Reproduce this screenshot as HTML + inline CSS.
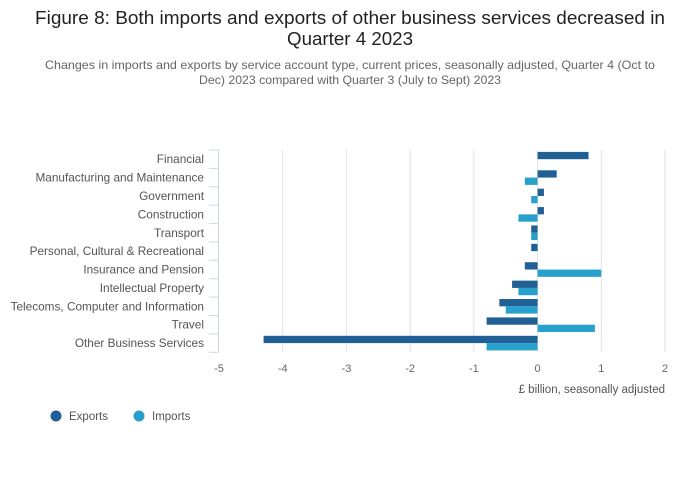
<!DOCTYPE html>
<html><head><meta charset="utf-8"><style>
body{margin:0;background:#fff;}
svg{display:block;font-family:"Liberation Sans",sans-serif;}
</style></head><body>
<svg id="chart" width="700" height="502" viewBox="0 0 700 502">
<rect width="700" height="502" fill="#fff"/>
<text x="350" y="24" text-anchor="middle" font-size="18" fill="#222" textLength="630" lengthAdjust="spacingAndGlyphs">Figure 8: Both imports and exports of other business services decreased in</text>
<text x="350" y="45" text-anchor="middle" font-size="18" fill="#222" textLength="126" lengthAdjust="spacingAndGlyphs">Quarter 4 2023</text>
<text x="350" y="69" text-anchor="middle" font-size="12" fill="#666" textLength="610" lengthAdjust="spacingAndGlyphs">Changes in imports and exports by service account type, current prices, seasonally adjusted, Quarter 4 (Oct to</text>
<text x="350" y="84" text-anchor="middle" font-size="12" fill="#666" textLength="302" lengthAdjust="spacingAndGlyphs">Dec) 2023 compared with Quarter 3 (July to Sept) 2023</text>
<g id="grid"></g>
<g id="bars"></g>
<g id="yaxis"></g>
<g id="xaxis"></g>
<text x="665" y="393" text-anchor="end" font-size="11.5" fill="#555">£ billion, seasonally adjusted</text>
<g>
<circle cx="56" cy="416" r="5.5" fill="#206095"/>
<text x="69" y="420" font-size="11.5" fill="#555">Exports</text>
</g>
<g>
<circle cx="139" cy="416" r="5.5" fill="#27a0cc"/>
<text x="152" y="420" font-size="11.5" fill="#555">Imports</text>
</g>
</svg>
<script>
const categories=["Financial","Manufacturing and Maintenance","Government","Construction","Transport","Personal, Cultural & Recreational","Insurance and Pension","Intellectual Property","Telecoms, Computer and Information","Travel","Other Business Services"];
const exportsData=[0.8,0.3,0.1,0.1,-0.1,-0.1,-0.2,-0.4,-0.6,-0.8,-4.3];
const importsData=[0,-0.2,-0.1,-0.3,-0.1,0,1.0,-0.3,-0.5,0.9,-0.8];
const xTicks=[-5,-4,-3,-2,-1,0,1,2];

const NS="http://www.w3.org/2000/svg";
const X0=219,X1=665,Y0=150,Y1=352.3;
const xMin=-5,xMax=2;
function xs(v){return X0+(v-xMin)/(xMax-xMin)*(X1-X0);}
const band=(Y1-Y0)/categories.length;
function ys(i){return Y0+i*band;}
function mk(tag,attrs,parent){const e=document.createElementNS(NS,tag);for(const k in attrs)e.setAttribute(k,attrs[k]);parent.appendChild(e);return e;}
const grid=document.getElementById('grid'),bars=document.getElementById('bars'),yaxis=document.getElementById('yaxis'),xaxis=document.getElementById('xaxis');
xTicks.forEach(t=>{
  if(t!==xMin){const l=mk('line',{x1:xs(t),x2:xs(t),y1:Y0,y2:Y1,stroke:'#e2e2e2','stroke-width':1},grid);
  
  }
  const tx=mk('text',{x:xs(t),y:372,'text-anchor':'middle','font-size':11,fill:'#666'},xaxis);
  tx.textContent=t;
  
  
});
const ax=mk('line',{x1:218.5,x2:218.5,y1:Y0,y2:Y1,stroke:'#ccd6eb','stroke-width':1},yaxis);


for(let i=0;i<=categories.length;i++){
  const tk=mk('line',{x1:209,x2:218.5,y1:ys(i),y2:ys(i),stroke:'#ccd6eb','stroke-width':1},yaxis);
  
  
}
const bh=7.3;
categories.forEach((c,i)=>{
  const lab=mk('text',{x:204,y:ys(i)+band/2+4,'text-anchor':'end','font-size':11.8,fill:'#555'},yaxis);
  lab.textContent=c;
  
  
  const e=exportsData[i],m=importsData[i];
  const top=ys(i)+band/2-bh;
  if(e!==0){const r=mk('rect',{x:Math.min(xs(0),xs(e)),y:top,width:Math.abs(xs(e)-xs(0)),height:bh,fill:'#206095'},bars);
  
  }
  if(m!==0){const r=mk('rect',{x:Math.min(xs(0),xs(m)),y:top+bh,width:Math.abs(xs(m)-xs(0)),height:bh,fill:'#27a0cc'},bars);
  
  }
});
</script>
</body></html>
